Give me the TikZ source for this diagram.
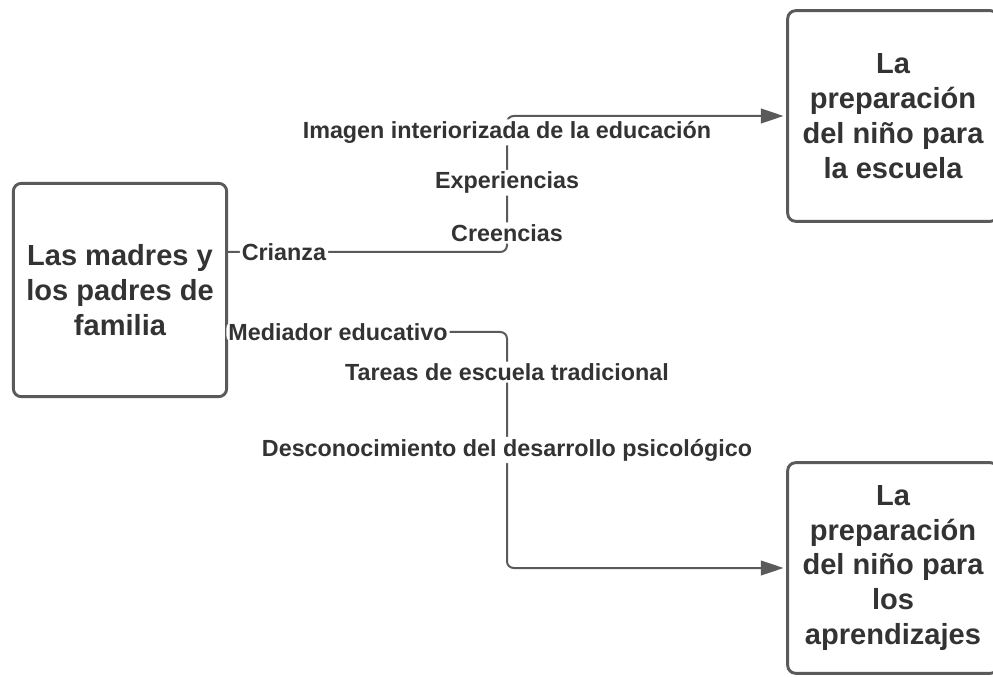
\documentclass[tikz,border=0pt]{standalone}
\usepackage{fontspec}
\setmainfont{Liberation Sans}
\usetikzlibrary{arrows.meta,positioning,calc}
\definecolor{linegray}{RGB}{90,90,90}
\definecolor{textgray}{RGB}{51,51,51}

\begin{document}
\begin{tikzpicture}[x=0.75pt,y=-0.75pt,
  box/.style={draw=linegray, line width=2.2pt, rounded corners=6pt, minimum width=158pt, minimum height=158pt, align=center, text=textgray, font=\bfseries\fontsize{21.8}{26.2}\selectfont},
  conn/.style={draw=linegray, line width=1.5pt, rounded corners=5pt, shorten >=2pt, -{Triangle[length=17pt,width=11pt]}},
  lbl/.style={fill=white, text=textgray, inner sep=1.5pt, font=\bfseries\fontsize{17.5}{20}\selectfont}]
\useasboundingbox (0,0) rectangle (993,677);
% Boxes
\node[box, minimum width=160pt, minimum height=160pt] (fam) at (120,290) {Las madres y\\los padres de\\familia};
\node[box] (esc) at (893,116) {La\\preparación\\del niño para\\la escuela};
\node[box] (apr) at (893,568) {La\\preparación\\del niño para\\los\\aprendizajes};
% Bend points
\coordinate (bend) at (507,0);
\coordinate (s1) at ($(fam.east)+(0,-38)$);
\coordinate (s2) at ($(fam.east)+(0,42)$);
% Upper connector
\draw[conn] (s1) -- node[lbl, pos=.2] {Crianza} (s1 -| bend)
  -- node[lbl, pos=.14] {Creencias}
     node[lbl, pos=.51] {Experiencias}
     node[lbl, pos=.88] {Imagen interiorizada de la educación} (bend |- esc.west)
  -- (esc.west);
% Lower connector
\draw[conn] (s2) -- node[lbl, pos=0, anchor=west, xshift=-2pt] {Mediador educativo} (s2 -| bend)
  -- node[lbl, pos=.17] {Tareas de escuela tradicional}
     node[lbl, pos=.5] {Desconocimiento del desarrollo psicológico} (bend |- apr.west)
  -- (apr.west);
\end{tikzpicture}
\end{document}
